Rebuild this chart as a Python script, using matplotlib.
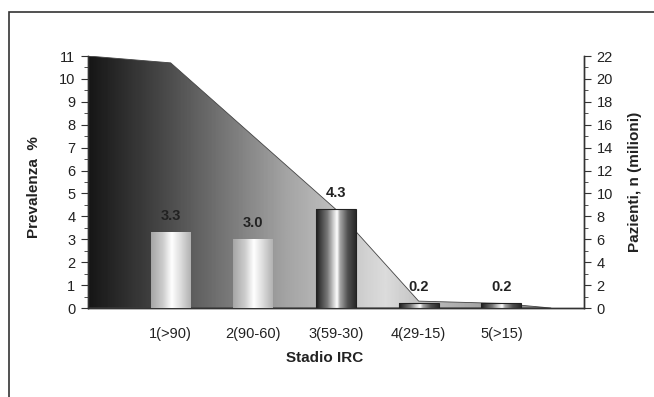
import numpy as np
import matplotlib.pyplot as plt
from matplotlib.colors import LinearSegmentedColormap
from matplotlib.patches import Rectangle

plt.rcParams['font.family'] = ['Liberation Sans', 'DejaVu Sans']

# data
stadi = ['1(>90)', '2(90-60)', '3(59-30)', '4(29-15)', '5(>15)']
prevalenza = [3.3, 3.0, 4.3, 0.2, 0.2]           # %, left axis
area_x = [0, 1, 2, 3, 4, 5, 5.6]                  # category positions
pazienti = [22.0, 21.4, 15.0, 8.6, 0.6, 0.4, 0.0]  # milioni, right axis

text_col = '#222222'
bar_w = 0.48

fig = plt.figure(figsize=(6.54, 3.97), dpi=100)
ax = fig.add_axes([88/654, 1-308/397, 496/654, 252/397])
ax2 = ax.twinx()
ax.set_zorder(ax2.get_zorder() + 1)
ax.patch.set_visible(False)

# outer frame
fig.patches.append(Rectangle((9/654, -0.05), 1.1, 1-12/397+0.05, transform=fig.transFigure,
                             fill=False, edgecolor='#333333', lw=1.2))

# area with horizontal gradient (right axis)
area_cmap = LinearSegmentedColormap.from_list('area', [
    (0.0, '#161616'), (0.15, '#484848'), (0.4, '#a4a4a4'),
    (0.6, '#dcdcdc'), (0.7, '#b8b8b8'), (1.0, '#7a7a7a')])
poly = ax2.fill_between(area_x, pazienti, 0, facecolor='none', edgecolor='#444444', lw=0.6, zorder=3)
grad = np.linspace(0, 1, 400).reshape(1, -1)
im = ax2.imshow(grad, extent=[0, 6, 0, 22], aspect='auto', cmap=area_cmap, zorder=2)
im.set_clip_path(poly.get_paths()[0], transform=ax2.transData)

# bars with cylinder-like gradients (left axis)
light_cmap = LinearSegmentedColormap.from_list('light', [
    (0.0, '#a6a6a6'), (0.3, '#cdcdcd'), (0.52, '#ffffff'), (0.75, '#dcdcdc'), (1.0, '#b2b2b2')])
dark_cmap = LinearSegmentedColormap.from_list('dark', [
    (0.0, '#1e1e1e'), (0.28, '#777777'), (0.48, '#e6e6e6'), (0.53, '#ffffff'),
    (0.6, '#a8a8a8'), (0.8, '#505050'), (1.0, '#2a2a2a')])
bar_cmaps = [light_cmap, light_cmap, dark_cmap, dark_cmap, dark_cmap]

bgrad = np.linspace(0, 1, 100).reshape(1, -1)
for i, (v, cm) in enumerate(zip(prevalenza, bar_cmaps)):
    x = i + 1
    ax.imshow(bgrad, extent=[x - bar_w/2, x + bar_w/2, 0, v], aspect='auto', cmap=cm, zorder=3)
    if cm is dark_cmap:
        ax.add_patch(Rectangle((x - bar_w/2, 0), bar_w, v, fill=False, edgecolor='#222222', lw=0.8, zorder=4))
    ax.annotate(f'{v:.1f}', (x, v), xytext=(0, 6.5), textcoords='offset points',
                ha='center', va='bottom', fontsize=10.5, fontweight='bold', color=text_col)

ax.set_xlim(0, 6)
ax.set_ylim(0, 11)
ax2.set_ylim(0, 22)

ax.set_xticks(range(1, len(stadi) + 1))
ax.set_xticklabels(stadi)
ax.tick_params(axis='x', length=0, pad=14, labelsize=10.5, labelcolor=text_col)
ax.set_yticks(range(0, 12))
ax.set_yticks(np.arange(0, 11, 0.5), minor=True)
ax.tick_params(axis='y', which='major', length=5, pad=4, labelsize=10.5, labelcolor=text_col, color='#333333')
ax.tick_params(axis='y', which='minor', length=3, color='#333333')
ax2.set_yticks(range(0, 23, 2))
ax2.set_yticks(range(0, 23), minor=True)
ax2.tick_params(axis='y', which='major', length=5, pad=4, labelsize=10.5, labelcolor=text_col, color='#333333')
ax2.tick_params(axis='y', which='minor', length=3, color='#333333')

for a in (ax, ax2):
    a.spines['top'].set_visible(False)
    for s in ('left', 'right', 'bottom'):
        a.spines[s].set_color('#333333')
        a.spines[s].set_linewidth(1.0)

ax.set_xlabel('Stadio IRC', fontsize=11, fontweight='bold', color=text_col)
ax.xaxis.set_label_coords(0.478, -0.172)
ax.set_ylabel('Prevalenza  %', fontsize=11, fontweight='bold', color=text_col)
ax.yaxis.set_label_coords(-0.094, 0.48)
ax2.set_ylabel('Pazienti, n (milioni)', fontsize=11, fontweight='bold', color=text_col)
ax2.yaxis.set_label_coords(1.088, 0.5)

fig.savefig('out.png', dpi=100)
